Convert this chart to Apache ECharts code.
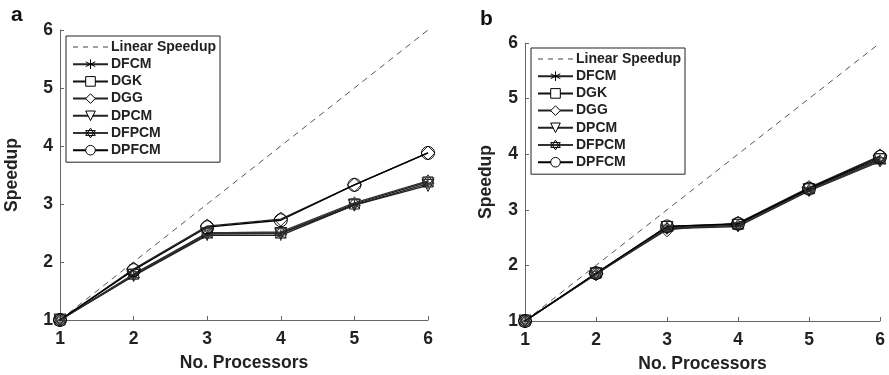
<!DOCTYPE html>
<html><head><meta charset="utf-8">
<script src="https://cdn.jsdelivr.net/npm/echarts@6/dist/echarts.min.js"></script>
<style>html,body{margin:0;padding:0;background:#fff}#c{width:889px;height:375px}</style>
</head><body><div id="c"></div>
<script>
var processors = [1, 2, 3, 4, 5, 6];
var linearSpeedup = [1, 2, 3, 4, 5, 6];
var seriesNames = ['DFCM', 'DGK', 'DGG', 'DPCM', 'DFPCM', 'DPFCM'];
// panel a
var aDFCM  = [1, 1.76, 2.46, 2.46, 2.98, 3.35];
var aDGK   = [1, 1.79, 2.50, 2.50, 3.00, 3.38];
var aDGG   = [1, 1.88, 2.62, 2.74, 3.33, 3.88];
var aDPCM  = [1, 1.77, 2.48, 2.49, 2.98, 3.32];
var aDFPCM = [1, 1.78, 2.50, 2.52, 3.02, 3.40];
var aDPFCM = [1, 1.86, 2.60, 2.72, 3.33, 3.88];
// panel b
var bDFCM  = [1, 1.84, 2.66, 2.70, 3.34, 3.87];
var bDGK   = [1, 1.86, 2.70, 2.74, 3.38, 3.92];
var bDGG   = [1, 1.85, 2.64, 2.76, 3.40, 3.97];
var bDPCM  = [1, 1.85, 2.68, 2.72, 3.36, 3.90];
var bDFPCM = [1, 1.84, 2.67, 2.72, 3.35, 3.88];
var bDPFCM = [1, 1.86, 2.70, 2.75, 3.38, 3.95];
var yTicks = [1, 2, 3, 4, 5, 6];

var FONT = 'Liberation Sans';
var symbols = {
  DFCM: 'path://M0,-1L0,1M-0.87,-0.5L0.87,0.5M-0.87,0.5L0.87,-0.5',
  DGK: 'rect',
  DGG: 'diamond',
  DPCM: 'triangle',
  DFPCM: 'path://M0,-1L0.866,0.5L-0.866,0.5ZM0,1L0.866,-0.5L-0.866,-0.5Z',
  DPFCM: 'circle'
};
var sizes = {DFCM: 11, DGK: 10, DGG: 14, DPCM: 12, DFPCM: 12, DPFCM: 13};
var lineColors = {DFCM: '#222', DGK: '#111', DGG: '#222', DPCM: '#222', DFPCM: '#333', DPFCM: '#000'};
var dashIcon = 'path://M0,-6M35,6M0,-0.5h5v1h-5zM10,-0.5h5v1h-5zM20,-0.5h5v1h-5zM30,-0.5h5v1h-5z';

function pair(xs, ys) { return xs.map(function (x, i) { return [x, ys[i]]; }); }

var panels = [
  {data: [aDFCM, aDGK, aDGG, aDPCM, aDFPCM, aDPFCM], yNameGap: 39},
  {data: [bDFCM, bDGK, bDGG, bDPCM, bDFPCM, bDPFCM], yNameGap: 30}
];

var grids = [
  {left: 60, right: 461, top: 30, bottom: 55, outerBoundsMode: 'none', containLabel: false},
  {left: 525, right: 9, top: 43, bottom: 54, outerBoundsMode: 'none', containLabel: false}
];

var xAxes = [], yAxes = [], series = [], legends = [];
grids.forEach(function (g, gi) {
  xAxes.push({
    type: 'value', gridIndex: gi, min: 1, max: 6, interval: 1,
    name: 'No. Processors', nameLocation: 'middle', nameGap: 34,
    nameTextStyle: {fontFamily: FONT, fontWeight: 'bold', fontSize: 17.5, color: '#222'},
    axisLine: {lineStyle: {color: '#666', width: 1}},
    axisTick: {inside: true, length: 4, lineStyle: {color: '#666'}},
    axisLabel: {fontFamily: FONT, fontWeight: 'bold', fontSize: 17.5, color: '#222', margin: 10},
    splitLine: {show: false}
  });
  yAxes.push({
    type: 'value', gridIndex: gi, min: 1, max: 6, interval: 1,
    name: 'Speedup', nameLocation: 'middle', nameGap: panels[gi].yNameGap, nameRotate: 90,
    nameTextStyle: {fontFamily: FONT, fontWeight: 'bold', fontSize: 17.5, color: '#222'},
    axisLine: {show: true, lineStyle: {color: '#666', width: 1}},
    axisTick: {show: true, inside: true, length: 4, lineStyle: {color: '#666'}},
    axisLabel: {fontFamily: FONT, fontWeight: 'bold', fontSize: 17.5, color: '#222', margin: 7},
    splitLine: {show: false}
  });
  series.push({
    name: 'Linear Speedup', type: 'line', xAxisIndex: gi, yAxisIndex: gi,
    data: pair(processors, linearSpeedup), showSymbol: false, symbol: 'none',
    lineStyle: {color: '#555', width: 1, type: [6, 5]}, itemStyle: {color: '#555'},
    z: 1, animation: false
  });
  seriesNames.forEach(function (n, si) {
    series.push({
      name: n, type: 'line', xAxisIndex: gi, yAxisIndex: gi,
      data: pair(processors, panels[gi].data[si]),
      symbol: symbols[n], symbolSize: sizes[n], showAllSymbol: true,
      symbolRotate: n === 'DPCM' ? 180 : 0,
      clip: false,
      lineStyle: {color: lineColors[n], width: 1.3},
      itemStyle: {color: 'rgba(255,255,255,0)', borderColor: lineColors[n], borderWidth: 1},
      z: 2, animation: false
    });
  });
});

function legendData() {
  return [{name: 'Linear Speedup', icon: dashIcon, itemStyle: {color: '#444', borderWidth: 0}}]
    .concat(seriesNames.map(function (n) {
      return {name: n, itemStyle: {color: 'rgba(255,255,255,1)', borderColor: '#000', borderWidth: 1}};
    }));
}

[[66, 36], [531, 48]].forEach(function (p) {
  legends.push({
    left: p[0], top: p[1], orient: 'vertical',
    data: legendData(),
    itemWidth: 35, itemHeight: 12, itemGap: 3.2,
    borderColor: '#222', borderWidth: 1, padding: [4, 4, 5, 6],
    textStyle: {fontFamily: FONT, fontWeight: 'bold', fontSize: 14, color: '#222', lineHeight: 12, padding: [0, 0, 0, -2]},
    selectedMode: false
  });
});

var chart = echarts.init(document.getElementById('c'), null, {renderer: 'canvas'});
chart.setOption({
  backgroundColor: '#fff',
  animation: false,
  title: [
    {text: 'a', left: 6, top: 0, textStyle: {fontFamily: FONT, fontWeight: 'bold', fontSize: 21, color: '#111'}},
    {text: 'b', left: 475, top: 4, textStyle: {fontFamily: FONT, fontWeight: 'bold', fontSize: 21, color: '#111'}}
  ],
  grid: grids,
  xAxis: xAxes,
  yAxis: yAxes,
  legend: legends,
  series: series
});
</script>
</body></html>
